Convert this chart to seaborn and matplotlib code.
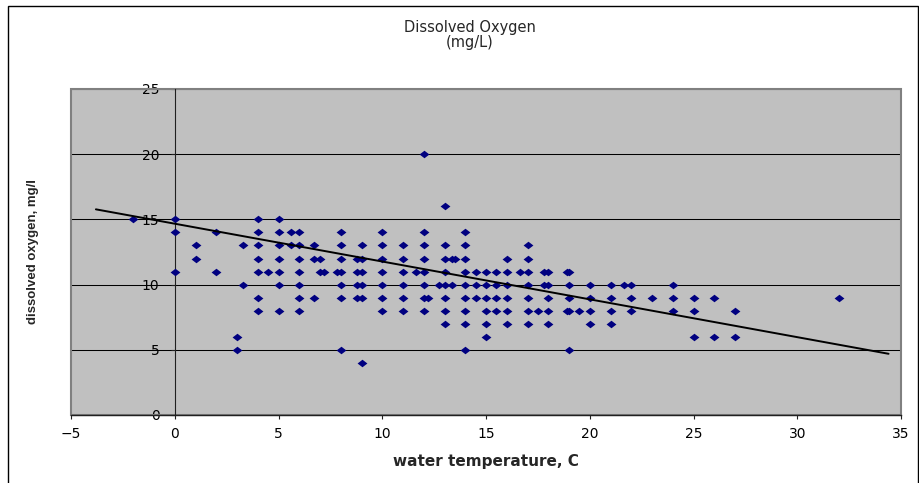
import numpy as np
import seaborn as sns
import matplotlib.pyplot as plt
from matplotlib.patches import Rectangle

# ==============================
# DATA (one line per temperature column)
# ==============================

water_temp = [
    -2,
    0, 0, 0,
    1, 1,
    2, 2,
    3, 3,
    3.3, 3.3,
    4, 4, 4, 4, 4, 4, 4,
    4.5,
    5, 5, 5, 5, 5, 5, 5,
    5.6, 5.6,
    6, 6, 6, 6, 6, 6, 6,
    6.7, 6.7, 6.7,
    7, 7,
    7.2,
    7.8,
    8, 8, 8, 8, 8, 8, 8,
    8.8, 8.8, 8.8, 8.8,
    9, 9, 9, 9, 9, 9,
    10, 10, 10, 10, 10, 10, 10,
    11, 11, 11, 11, 11, 11,
    11.65,
    12, 12, 12, 12, 12, 12, 12, 12,
    12.2,
    12.75,
    13, 13, 13, 13, 13, 13, 13, 13,
    13.35, 13.35,
    13.5,
    14, 14, 14, 14, 14, 14, 14, 14, 14,
    14.5, 14.5, 14.5,
    15, 15, 15, 15, 15, 15,
    15.5, 15.5, 15.5, 15.5,
    16, 16, 16, 16, 16, 16,
    16.65,
    17, 17, 17, 17, 17, 17, 17,
    17.5,
    17.8, 17.8,
    18, 18, 18, 18, 18,
    18.9, 18.9,
    19, 19, 19, 19, 19,
    19.5,
    20, 20, 20, 20,
    21, 21, 21, 21,
    21.65,
    22, 22, 22,
    23,
    24, 24, 24,
    25, 25, 25,
    26, 26,
    27, 27,
    32,
]

dissolved_o2 = [
    15,
    15, 14, 11,
    13, 12,
    14, 11,
    6, 5,
    13, 10,
    15, 14, 13, 12, 11, 9, 8,
    11,
    15, 14, 13, 12, 11, 10, 8,
    14, 13,
    14, 13, 12, 11, 10, 9, 8,
    13, 12, 9,
    12, 11,
    11,
    11,
    14, 13, 12, 11, 10, 9, 5,
    12, 11, 10, 9,
    13, 12, 11, 10, 9, 4,
    14, 13, 12, 11, 10, 9, 8,
    13, 12, 11, 10, 9, 8,
    11,
    20, 14, 13, 12, 11, 10, 9, 8,
    9,
    10,
    16, 13, 12, 11, 10, 9, 8, 7,
    12, 10,
    12,
    14, 13, 12, 11, 10, 9, 8, 7, 5,
    11, 10, 9,
    11, 10, 9, 8, 7, 6,
    11, 10, 9, 8,
    12, 11, 10, 9, 8, 7,
    11,
    13, 12, 11, 10, 9, 8, 7,
    8,
    11, 10,
    11, 10, 9, 8, 7,
    11, 8,
    11, 10, 9, 8, 5,
    8,
    10, 9, 8, 7,
    10, 9, 8, 7,
    10,
    10, 9, 8,
    9,
    10, 9, 8,
    9, 8, 6,
    9, 6,
    8, 6,
    9,
]

assert len(water_temp) == len(dissolved_o2)

# linear trendline as drawn on the chart
trend_slope = -0.29
trend_intercept = 14.67
trend_x = [-3.8, 34.4]

x_ticks = [-5, 0, 5, 10, 15, 20, 25, 30, 35]
y_ticks = [0, 5, 10, 15, 20, 25]

# ==============================
# PLOT
# ==============================

sns.set_style("white")
plt.rcParams['font.family'] = ['DejaVu Sans']

W, H = 920, 483
fig = plt.figure(figsize=(W / 100, H / 100), dpi=100)
ax = fig.add_axes([71 / W, 1 - 415 / H, 830 / W, 326 / H])
ax.set_facecolor('#C0C0C0')

# excel style diamond, a bit wider than tall
diamond = [(-1, 0), (0, 0.77), (1, 0), (0, -0.77)]
sns.scatterplot(x=water_temp, y=dissolved_o2, marker=diamond, s=50,
                color='#000080', linewidth=0, ax=ax, zorder=3)

trend_y = [trend_intercept + trend_slope * t for t in trend_x]
sns.lineplot(x=trend_x, y=trend_y, color='black', linewidth=1.4,
             sort=False, ax=ax, zorder=4)

ax.set_xlim(-5, 35)
ax.set_ylim(0, 25)
ax.set_xticks(x_ticks)
ax.set_yticks(y_ticks)

# horizontal gridlines
ax.set_axisbelow(True)
ax.yaxis.grid(True, color='black', linewidth=0.75)
ax.xaxis.grid(False)

# plot area border
ax.add_patch(Rectangle((0, 0), 1, 1, transform=ax.transAxes, fill=False,
                       edgecolor='#808080', linewidth=1.5, zorder=1.5,
                       clip_on=False))

# value axis crosses at x = 0
ax.spines['top'].set_visible(False)
ax.spines['right'].set_visible(False)
ax.spines['left'].set_position(('data', 0))
ax.spines['left'].set_color('#202020')
ax.spines['left'].set_linewidth(0.8)
ax.spines['bottom'].set_color('#202020')
ax.spines['bottom'].set_linewidth(1.0)

ax.tick_params(axis='both', direction='out', length=3, width=0.8,
               colors='#202020', labelcolor='black', labelsize=10)
ax.tick_params(axis='y', pad=8, left=True)
ax.tick_params(axis='x', pad=6, bottom=True)

ax.set_xlabel('water temperature, C', fontsize=11, fontweight='bold',
              va='center')
ax.xaxis.set_label_coords(0.5, -0.144)
ax.set_ylabel('dissolved oxygen, mg/l', fontsize=9.5, fontweight='bold',
              family=['Liberation Sans', 'DejaVu Sans'], va='center')
ax.yaxis.set_label_coords(-0.046, 0.503)

fig.text(469.5 / W, 1 - 35 / H, 'Dissolved Oxygen\n(mg/L)', ha='center',
         va='center', fontsize=10.5, linespacing=1.05)

# chart frame
fig.add_artist(Rectangle((8 / W, -0.05), 910 / W, 1.05 - 6 / H,
                         transform=fig.transFigure, fill=False,
                         edgecolor='black', linewidth=1.0))

fig.savefig('out.png', dpi=100)
